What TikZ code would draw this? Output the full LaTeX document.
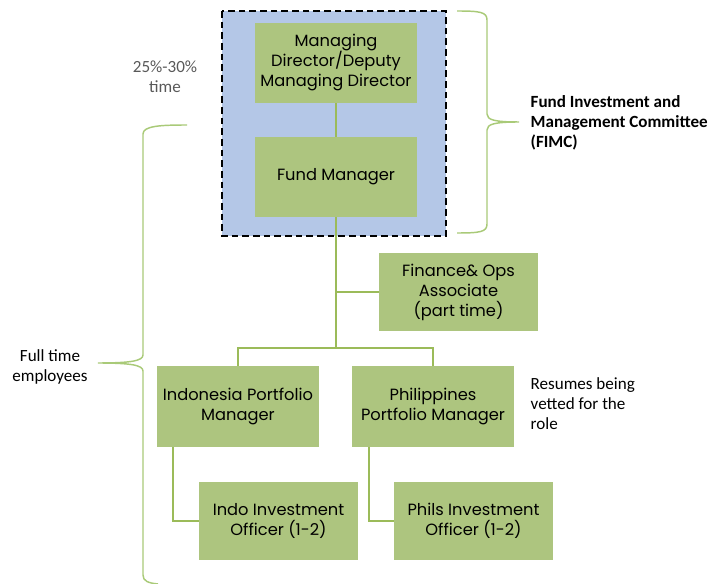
\documentclass[tikz,border=0pt]{standalone}
\usepackage{fontspec}
\setmainfont{Carlito}
\newfontfamily\rolefont{Poppins}
\usetikzlibrary{positioning}
\definecolor{rolegreen}{HTML}{ADC57F}
\definecolor{linkgreen}{HTML}{9BBB59}
\definecolor{bracegreen}{HTML}{A9CA78}
\definecolor{fimcblue}{HTML}{B4C7E7}
\definecolor{notegray}{HTML}{595959}
\tikzset{
    x=0.75pt, y=-0.75pt, % one unit is one pixel of the sketch
    role/.style={fill=rolegreen, align=center, inner sep=0pt, minimum width=121.5pt, minimum height=60pt, font=\rolefont\fontsize{12.2}{15}\selectfont}, % the green boxes
    smallrole/.style={role, minimum width=119.25pt, minimum height=58.5pt},
    link/.style={draw=linkgreen, line width=1.5pt}, % org chart lines
    curly/.style={draw=bracegreen, line width=1.1pt},
    note/.style={align=left, anchor=north west, font=\fontsize{12.8}{15}\selectfont},
}

\begin{document}
\begin{tikzpicture}
    \useasboundingbox (0,0) rectangle (711,584);

    % committee
    \draw[fill=fimcblue, line width=1.5pt, dash pattern=on 5pt off 3pt] (222,11) rectangle (446,236);
    \node[role] (md) at (336,63) {Managing\\Director/Deputy\\Managing Director};
    \node[role] (fm) at (336,177) {Fund Manager};

    \node[smallrole] (fin) at (458.5,292) {Finance\& Ops\\Associate\\(part time)};
    \node[role, minimum height=60.75pt] (ipm) at (238,406.5) {Indonesia Portfolio\\Manager};
    \node[role, minimum height=60.75pt] (ppm) at (433,406.5) {Philippines\\Portfolio Manager};
    \node[smallrole] (iio) at (278.5,521) {Indo Investment\\Officer (1-2)};
    \node[smallrole] (pio) at (473.5,521) {Phils Investment\\Officer (1-2)};
    \coordinate (hub) at (336,348);

    \draw[link] (md) -- (fm);
    \draw[link] (fm) -- (hub);
    \draw[link] (hub |- fin.west) -- (fin.west);
    \draw[link] (ipm.north) |- (hub) -| (ppm.north);
    \draw[link] ([xshift=12pt]ipm.south west) |- (iio.west);
    \draw[link] ([xshift=12.75pt]ppm.south west) |- (pio.west);

    % braces
    \draw[curly] (457,11) .. controls (480,11) and (487,12) .. (487,20) -- (487,114)
        .. controls (487,120) and (495,122) .. (519,122) .. controls (495,122) and (487,124) .. (487,130)
        -- (487,224) .. controls (487,232) and (480,233) .. (457,233);
    \draw[curly] (187,125) .. controls (160,125) and (143,126) .. (143,134) -- (143,355)
        .. controls (143,361) and (130,363) .. (98,363) .. controls (130,363) and (143,365) .. (143,371)
        -- (143,575) .. controls (143,581) and (148,583) .. (158,584);

    \node[note, font=\bfseries\fontsize{12.8}{15}\selectfont] (fimc) at (526,91) {Fund Investment and\\Management Committee\\(FIMC)};
    \node[note, align=center, anchor=center, text=notegray] (part) at (165,77) {25\%-30\%\\time};
    \node[note, align=center, anchor=center] (full) at (50,367) {Full time\\employees};
    \node[note] (vet) at (526,373) {Resumes being\\vetted for the\\role};
\end{tikzpicture}
\end{document}
